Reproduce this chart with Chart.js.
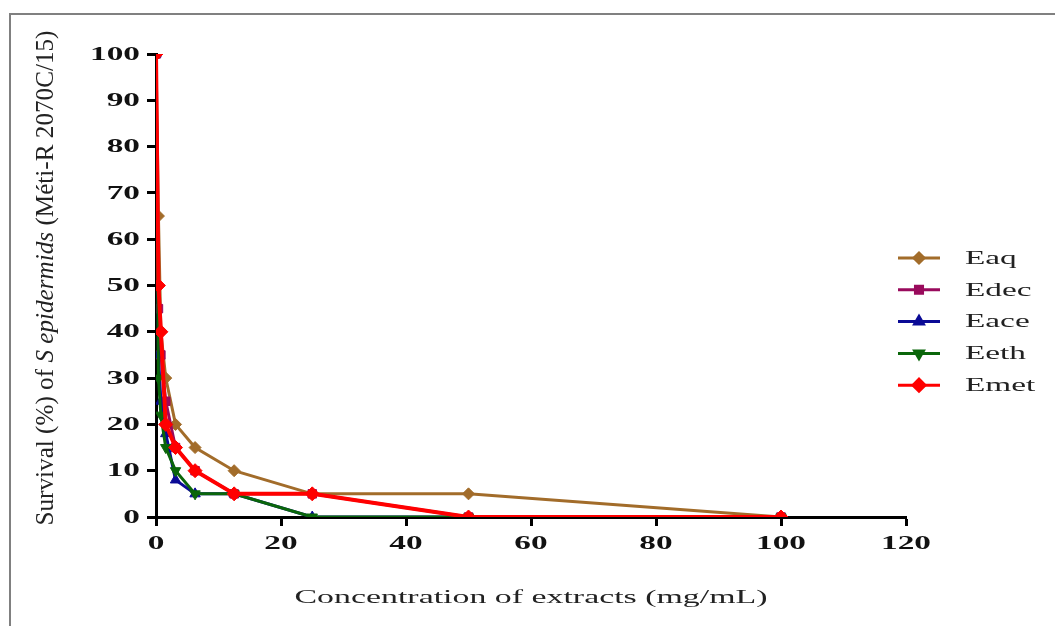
<!DOCTYPE html>
<html>
<head>
<meta charset="utf-8">
<script src="https://cdn.jsdelivr.net/npm/chart.js@4.4.1/dist/chart.umd.min.js"></script>
<style>
    html, body { margin: 0; padding: 0; background: #fff; }
    #wrap { position: relative; width: 1055px; height: 626px; overflow: hidden; }
    #frame { position: absolute; left: 9px; top: 13px; width: 1100px; height: 700px;
             border-top: 2px solid #808080; border-left: 2px solid #808080; }
    canvas { position: absolute; left: 0; top: 0; }
</style>
</head>
<body>
<div id="wrap">
    <div id="frame"></div>
    <canvas id="chart" width="1055" height="626"></canvas>
</div>
<script>
// concentration series (mg/mL), two-fold dilutions plus control
const conc = [0, 0.39, 0.78, 1.56, 3.125, 6.25, 12.5, 25, 50, 100];

const eaq  = [100, 65, 40, 30, 20, 15, 10, 5, 5, 0];
const edec = [100, 45, 35, 25, 15, 10, 5, 5, 0, 0];
const eace = [100, 35, 25, 18, 8, 5, 5, 0, 0, 0];
const eeth = [100, 30, 22, 15, 10, 5, 5, 0, 0, 0];
const emet = [100, 50, 40, 20, 15, 10, 5, 5, 0, 0];

const seriesNames = ['Eaq', 'Edec', 'Eace', 'Eeth', 'Emet'];
const xTicks = [0, 20, 40, 60, 80, 100, 120];
const yTicks = [0, 10, 20, 30, 40, 50, 60, 70, 80, 90, 100];

const SERIF = "'Liberation Serif', 'DejaVu Serif', serif";
const STRETCH = 1.85; // the source figure is wide, text looks stretched sideways

function pts(vals) {
    return vals.map((v, i) => ({ x: conc[i], y: v }));
}

function ds(label, vals, color, style, radius, rot, width, order) {
    return {
        label: label,
        data: pts(vals),
        borderColor: color,
        backgroundColor: color,
        pointBackgroundColor: color,
        pointBorderColor: color,
        borderWidth: width,
        pointStyle: style,
        pointRadius: radius,
        pointRotation: rot,
        pointBorderWidth: 1,
        tension: 0,
        order: order,
    };
}

// draw text squeezed/stretched along x
function wideText(ctx, text, x, y, font, sx, align) {
    ctx.save();
    ctx.font = font;
    const w = ctx.measureText(text).width * sx;
    let left = x;
    if (align === 'center') left = x - w / 2;
    else if (align === 'right') left = x - w;
    ctx.translate(left, y);
    ctx.scale(sx, 1);
    ctx.textAlign = 'left';
    ctx.fillText(text, 0, 0);
    ctx.restore();
}

const textPlugin = {
    id: 'texts',
    afterDraw(chart) {
        const ctx = chart.ctx;
        const xs = chart.scales.x, ys = chart.scales.y;
        ctx.save();
        ctx.fillStyle = '#111';
        ctx.textBaseline = 'middle';

        // tick labels
        const tickFont = 'bold 18px ' + SERIF;
        yTicks.forEach(v => wideText(ctx, String(v), 140, ys.getPixelForValue(v) + 1, tickFont, STRETCH, 'right'));
        xTicks.forEach(v => wideText(ctx, String(v), xs.getPixelForValue(v), 544, tickFont, STRETCH, 'center'));

        // x title
        ctx.fillStyle = '#222';
        const xt = 'Concentration of extracts (mg/mL)';
        ctx.font = '18px ' + SERIF;
        const sxt = 473 / ctx.measureText(xt).width;
        wideText(ctx, xt, (chart.chartArea.left + chart.chartArea.right) / 2, 598, '18px ' + SERIF, sxt, 'center');

        // y title, italic species name
        const parts = [
            { t: 'Survival (%) of ', f: '18px ' + SERIF },
            { t: 'S epidermids', f: 'italic 18px ' + SERIF },
            { t: ' (Méti-R 2070C/15)', f: '18px ' + SERIF },
        ];
        let total = 0;
        parts.forEach(p => { ctx.font = p.f; p.w = ctx.measureText(p.t).width; total += p.w; });
        const k = 495 / total;
        ctx.translate(47, 278);
        ctx.rotate(-Math.PI / 2);
        ctx.scale(k, 1.35);
        ctx.textAlign = 'left';
        let x = -total / 2;
        parts.forEach(p => { ctx.font = p.f; ctx.fillText(p.t, x, 0); x += p.w; });
        ctx.restore();
    }
};

// legend: line sample with marker, label to the right
const legendPlugin = {
    id: 'sideLegend',
    afterDraw(chart) {
        const ctx = chart.ctx;
        ctx.save();
        chart.data.datasets.forEach((d, i) => {
            const y = 258 + i * 31.8;
            ctx.strokeStyle = d.borderColor;
            ctx.lineWidth = 3;
            ctx.beginPath();
            ctx.moveTo(898, y);
            ctx.lineTo(940, y);
            ctx.stroke();
            ctx.fillStyle = d.borderColor;
            if (Chart.helpers && Chart.helpers.drawPoint) {
                Chart.helpers.drawPoint(ctx, { pointStyle: d.pointStyle, radius: d.pointRadius - 1, rotation: d.pointRotation, borderWidth: 1 }, 919, y);
            }
            ctx.fillStyle = '#222';
            ctx.textBaseline = 'middle';
            wideText(ctx, d.label, 965, y + 1, '18px ' + SERIF, STRETCH, 'left');
        });
        ctx.restore();
    }
};

const ctx = document.getElementById('chart').getContext('2d');

new Chart(ctx, {
    type: 'line',
    data: {
        datasets: [
            ds(seriesNames[0], eaq,  '#A26C2A', 'rectRot',  6, 0,   3, 4),
            ds(seriesNames[1], edec, '#990A5C', 'rect',     6, 0,   3, 3),
            ds(seriesNames[2], eace, '#0A0A96', 'triangle', 6, 0,   3, 2),
            ds(seriesNames[3], eeth, '#0A660A', 'triangle', 6, 180, 3, 1),
            ds(seriesNames[4], emet, '#FF0000', 'rectRot',  7, 0,   4, 0),
        ],
    },
    options: {
        responsive: false,
        animation: false,
        layout: { padding: { left: 0, right: 149, top: 54, bottom: 0 } },
        plugins: {
            legend: { display: false },
            tooltip: { enabled: false },
        },
        scales: {
            x: {
                type: 'linear',
                min: 0,
                max: 120,
                afterBuildTicks: (s) => { s.ticks = xTicks.map(v => ({ value: v })); },
                afterFit: (s) => { s.height = 109; },
                border: { color: '#000', width: 3 },
                grid: { drawOnChartArea: false, drawTicks: true, tickLength: 9, tickWidth: 3, tickColor: '#000' },
                ticks: { color: 'rgba(0,0,0,0)', padding: 4, font: { family: SERIF, size: 18, weight: 'bold' } },
            },
            y: {
                type: 'linear',
                min: 0,
                max: 100,
                afterBuildTicks: (s) => { s.ticks = yTicks.map(v => ({ value: v })); },
                afterFit: (s) => { s.width = 156; },
                border: { color: '#000', width: 3 },
                grid: { drawOnChartArea: false, drawTicks: true, tickLength: 9, tickWidth: 3, tickColor: '#000' },
                ticks: { color: 'rgba(0,0,0,0)', padding: 4, font: { family: SERIF, size: 18, weight: 'bold' } },
            },
        },
    },
    plugins: [textPlugin, legendPlugin],
});
</script>
</body>
</html>
